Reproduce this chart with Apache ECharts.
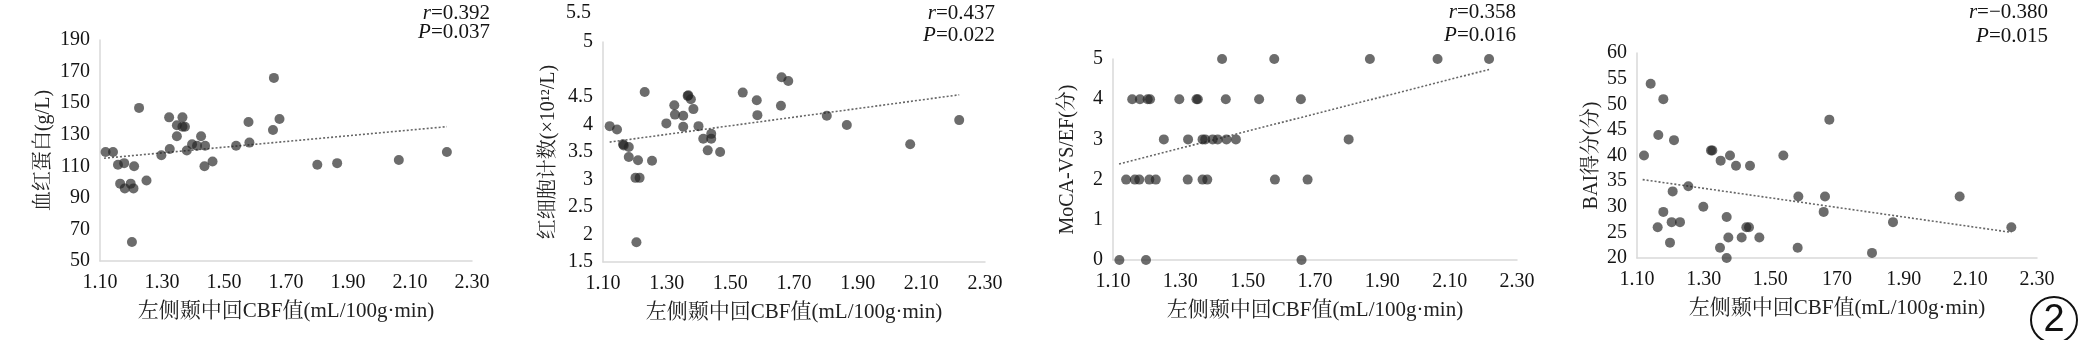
<!DOCTYPE html>
<html>
<head>
<meta charset="utf-8">
<script src="https://cdn.jsdelivr.net/npm/echarts@6/dist/echarts.min.js"></script>
<style>
html,body{margin:0;padding:0;background:#fff;}
#c{width:2079px;height:340px;}
</style>
</head>
<body>
<div id="c"></div>
<script>
// ---- data ----
const xName = '左侧颞中回CBF值(mL/100g·min)';
const xTicks = ['1.10','1.30','1.50','1.70','1.90','2.10','2.30'];
const xTicks4 = ['1.10','1.30','1.50','170','1.90','2.10','2.30'];

// Panel 1: haemoglobin
const cbf1 = [1.118,1.142,1.158,1.178,1.210,1.165,1.180,1.199,1.208,1.203,1.226,1.250,1.298,1.323,1.325,1.348,1.348,1.366,1.366,1.374,1.380,1.397,1.413,1.426,1.439,1.437,1.463,1.539,1.579,1.582,1.661,1.658,1.679,1.801,1.865,2.064,2.219];
const hb   = [119,119,111,112,110,99,96,99,96,62,147,101,117,141,121,136,129,141,135,135,120,124,123,129,123,110,113,123,138,125,166,133,140,111,112,114,119];
const trendX1 = [1.113, 2.219];
const trendY1 = [115.1, 135.1];
const yTicks1 = ['50','70','90','110','130','150','170','190'];

// Panel 2: red blood cell count
const cbf2 = [1.121,1.144,1.163,1.165,1.181,1.181,1.210,1.202,1.215,1.205,1.231,1.254,1.299,1.324,1.326,1.352,1.352,1.368,1.366,1.376,1.384,1.400,1.415,1.440,1.440,1.429,1.468,1.539,1.583,1.585,1.659,1.661,1.682,1.803,1.866,2.065,2.219];
const rbc  = [3.97,3.91,3.64,3.62,3.59,3.41,3.35,3.03,3.03,1.86,4.59,3.34,4.02,4.35,4.18,4.16,3.96,4.53,4.52,4.46,4.28,3.97,3.74,3.83,3.74,3.53,3.50,4.58,4.44,4.17,4.34,4.86,4.79,4.16,3.99,3.64,4.08];
const trendX2 = [1.121, 2.219];
const trendY2 = [3.68, 4.54];
const yTicks2 = ['1.5','2','2.5','3','3.5','4','4.5','','5'];
const yTopLabel2 = '5.5';

// Panel 3: MoCA-VS/EF
const cbf3 = [1.424,1.579,1.863,2.064,2.217,
              1.157,1.180,1.203,1.210,1.297,1.348,1.352,1.435,1.534,1.658,
              1.251,1.323,1.366,1.374,1.396,1.411,1.437,1.465,1.800,
              1.139,1.165,1.178,1.208,1.227,1.322,1.366,1.380,1.581,1.678,
              1.119,1.198,1.660];
const moca = [5,5,5,5,5,
              4,4,4,4,4,4,4,4,4,4,
              3,3,3,3,3,3,3,3,3,
              2,2,2,2,2,2,2,2,2,2,
              0,0,0];
const trendX3 = [1.118, 2.217];
const trendY3 = [2.39, 4.74];
const yTicks3 = ['0','1','2','3','4','5'];

// Panel 4: BAI
const cbf4 = [1.121,1.141,1.179,1.164,1.211,1.207,1.254,1.179,1.162,1.204,1.229,1.199,1.299,1.322,1.326,1.351,1.379,1.397,1.439,1.369,1.374,1.349,1.369,1.414,1.428,1.436,1.467,1.539,1.584,1.582,1.660,1.664,1.677,1.805,1.868,2.068,2.223];
const bai  = [40,54,51,44,43,33,34,29,26,27,27,23,30,41,41,39,40,38,38,28,24,22,20,24,26,26,24,40,32,22,29,32,47,21,27,32,26];
const trendX4 = [1.117, 2.223];
const trendY4 = [35.3, 25.0];
const yTicks4 = ['20','25','30','35','40','45','50','55','60'];

const stats = [
  {r:'0.392', p:'0.037'},
  {r:'0.437', p:'0.022'},
  {r:'0.358', p:'0.016'},
  {r:'−0.380', p:'0.015'}
];
const yNames = ['血红蛋白(g/L)','红细胞计数(×10¹²/L)','MoCA-VS/EF(分)','BAI得分(分)'];
const figLabel = '2';

// ---- chart ----
const FONT = "'Liberation Serif','Times New Roman','Noto Serif CJK SC','Noto Sans CJK SC',serif";
const TXT = '#141414';
const AXC = '#d9d9d9';

const grids = [
  {left:100, top:40, width:372, height:221},
  {left:603, top:42, width:382, height:220},
  {left:1113, top:59, width:404, height:201},
  {left:1637, top:53, width:400, height:205}
];
const yCfg = [
  {min:50, max:190, interval:20, labels:yTicks1, gap:46},
  {min:1.5, max:5.5, interval:0.5, labels:yTicks2, gap:44},
  {min:0, max:5, interval:1, labels:yTicks3, gap:35},
  {min:20, max:60, interval:5, labels:yTicks4, gap:35}
];
const xLabelSets = [xTicks, xTicks, xTicks, xTicks4];
const scat = [[cbf1,hb],[cbf2,rbc],[cbf3,moca],[cbf4,bai]];
const trends = [[trendX1,trendY1],[trendX2,trendY2],[trendX3,trendY3],[trendX4,trendY4]];

const xAxis = grids.map((g,i)=>({
  gridIndex:i, type:'value', min:1.1, max:2.3, interval:0.2,
  axisLine:{show:true, onZero:false, lineStyle:{color:AXC, width:1.5}},
  axisTick:{show:false}, splitLine:{show:false},
  axisLabel:{color:TXT, fontFamily:FONT, fontSize:20, margin:12,
    formatter:(v,idx)=>xLabelSets[i][Math.round((v-1.1)/0.2)]},
  name:xName, nameLocation:'middle', nameGap:40,
  nameTextStyle:{color:'#222', fontFamily:FONT, fontSize:21}
}));
const yAxis = yCfg.map((c,i)=>({
  gridIndex:i, type:'value', min:c.min, max:c.max, interval:c.interval,
  axisLine:{show:true, onZero:false, lineStyle:{color:AXC, width:1.5}},
  axisTick:{show:false}, splitLine:{show:false},
  axisLabel:{color:TXT, fontFamily:FONT, fontSize:20, margin:10,
    formatter:(v)=>c.labels[Math.round((v-c.min)/c.interval)]},
  name:yNames[i], nameLocation:'middle', nameGap:c.gap, nameRotate:90,
  nameTextStyle:{color:'#222', fontFamily:FONT, fontSize:20}
}));

const series = [];
scat.forEach((s,i)=>{
  series.push({
    type:'scatter', xAxisIndex:i, yAxisIndex:i,
    data:s[0].map((x,k)=>[x, s[1][k]]),
    symbolSize:10,
    itemStyle:{color:'rgba(36,36,36,0.84)'},
    silent:true, z:3
  });
  series.push({
    type:'line', xAxisIndex:i, yAxisIndex:i,
    data:trends[i][0].map((x,k)=>[x, trends[i][1][k]]),
    symbol:'none', silent:true, z:2,
    lineStyle:{color:'#666', width:1.6, type:[2,2]}
  });
});

const statPos = [[490,13,32],[995,13,35],[1516,12,35],[2048,12,36]];
const graphic = [];
stats.forEach((s,i)=>{
  const [rx, ry, py] = statPos[i];
  const rich = {i:{fontStyle:'italic', fontFamily:FONT, fontSize:21, fill:TXT},
                n:{fontFamily:FONT, fontSize:21, fill:TXT}};
  graphic.push({type:'text', x:rx, y:ry, silent:true,
    style:{text:'{i|r}{n|=' + s.r + '}', rich, align:'right', verticalAlign:'middle', font:'21px '+FONT, fill:TXT}});
  graphic.push({type:'text', x:rx, y:py, silent:true,
    style:{text:'{i|P}{n|=' + s.p + '}', rich, align:'right', verticalAlign:'middle', font:'21px '+FONT, fill:TXT}});
});
// displaced top tick label on panel 2
graphic.push({type:'text', x:591, y:13, silent:true,
  style:{text:yTopLabel2, align:'right', verticalAlign:'middle', font:'20px '+FONT, fill:TXT}});
// circled figure number
graphic.push({type:'circle', silent:true, shape:{cx:2054, cy:320, r:23},
  style:{fill:'none', stroke:'#111', lineWidth:2}});
graphic.push({type:'text', x:2054, y:321, silent:true,
  style:{text:figLabel, align:'center', verticalAlign:'middle', font:'38px "Liberation Sans", Arial, sans-serif', fill:'#111'}});

const chart = echarts.init(document.getElementById('c'), null, {renderer:'canvas'});
chart.setOption({
  animation:false,
  backgroundColor:'#ffffff',
  grid:grids,
  xAxis, yAxis, series, graphic
});
</script>
</body>
</html>
